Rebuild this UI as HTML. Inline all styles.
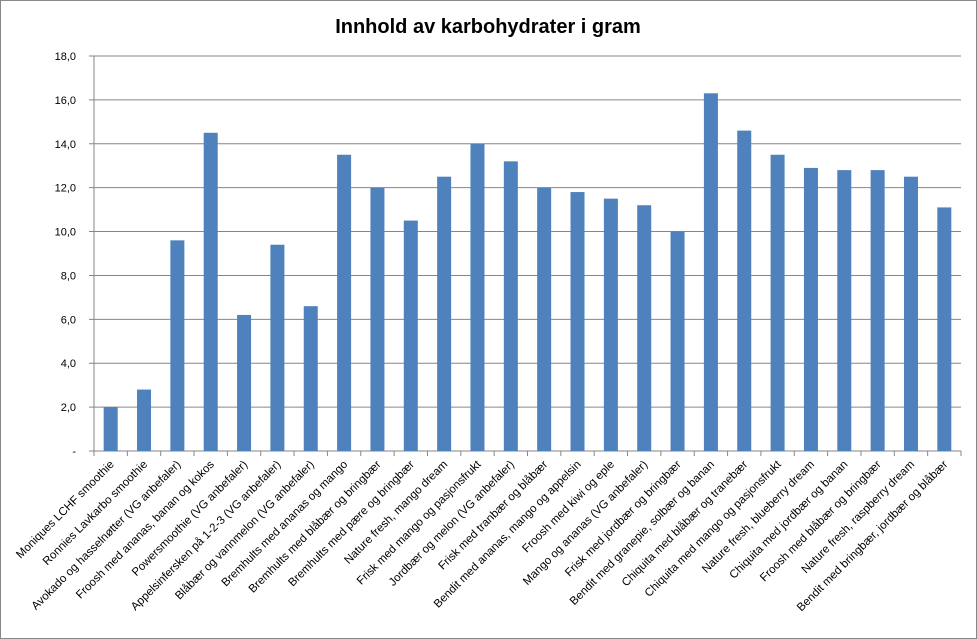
<!DOCTYPE html>
<html><head><meta charset="utf-8"><style>
body{margin:0;background:#fff;}
svg{display:block;font-family:"Liberation Sans","DejaVu Sans",sans-serif;}
</style></head><body>
<svg id="chart" width="977" height="639">
<rect x="0.5" y="0.5" width="976" height="638" fill="#fff" stroke="#888"/>
<text x="488" y="33" text-anchor="middle" font-size="20" font-weight="bold" fill="#000">Innhold av karbohydrater i gram</text>
<g id="grid"></g><g id="bars"></g><g id="axes"></g>
</svg>
<script>
const categories=["Moniques LCHF smoothie","Ronnies Lavkarbo smoothie","Avokado og hasselnøtter (VG anbefaler)","Froosh med ananas, banan og kokos","Powersmoothie (VG anbefaler)","Appelsinfersken på 1-2-3 (VG anbefaler)","Blåbær og vannmelon (VG anbefaler)","Bremhults med ananas og mango","Bremhults med blåbær og bringbær","Bremhults med pære og bringbær","Nature fresh, mango dream","Frisk med mango og pasjonsfrukt","Jordbær og melon (VG anbefaler)","Frisk med tranbær og blåbær","Bendit med ananas, mango og appelsin","Froosh med kiwi og eple","Mango og ananas (VG anbefaler)","Frisk med jordbær og bringbær","Bendit med granepie, solbær og banan","Chiquita med blåbær og tranebær","Chiquita med mango og pasjonsfrukt","Nature fresh, blueberry dream","Chiquita med jordbær og banan","Froosh med blåbær og bringbær","Nature fresh, raspberry dream","Bendit med bringbær, jordbær og blåbær"];
const values=[2.0,2.8,9.6,14.5,6.2,9.4,6.6,13.5,12.0,10.5,12.5,14.0,13.2,12.0,11.8,11.5,11.2,10.0,16.3,14.6,13.5,12.9,12.8,12.8,12.5,11.1];
const ticks=[0,2,4,6,8,10,12,14,16,18];
const tickLabels=["-","2,0","4,0","6,0","8,0","10,0","12,0","14,0","16,0","18,0"];
const NS="http://www.w3.org/2000/svg";
const L=94,R=961,T=56,B=451,ymax=18;
const y=v=>B-(v/ymax)*(B-T);
const bw=(R-L)/categories.length;
const x=i=>L+bw*(i+0.5);
function mk(t,a,p){const e=document.createElementNS(NS,t);for(const k in a)e.setAttribute(k,a[k]);p.appendChild(e);return e;}
const grid=document.getElementById('grid'),bars=document.getElementById('bars'),axes=document.getElementById('axes');
ticks.forEach((t,i)=>{
  const g=mk('line',{x1:L-5,x2:R,y1:y(t),y2:y(t),stroke:'#868686','stroke-width':1},grid);
  
  
  const tx=mk('text',{x:L-18,y:y(t)+4,'text-anchor':'end','font-size':11,fill:'#000'},axes);
  tx.textContent=tickLabels[i];
  
  
});
const ya=mk('line',{x1:L,x2:L,y1:T,y2:B,stroke:'#868686'},axes);


values.forEach((v,i)=>{
  const r=mk('rect',{x:x(i)-7,y:y(v),width:14,height:B-y(v),fill:'#4f81bd'},bars);
  
  
});
for(let i=0;i<=categories.length;i++){
  const tk=mk('line',{x1:L+bw*i,x2:L+bw*i,y1:B,y2:B+5,stroke:'#868686'},axes);
  
  
}
categories.forEach((c,i)=>{
  const px=x(i)+4,py=B+14;
  const t=mk('text',{x:px,y:py,'text-anchor':'end','font-size':11.5,fill:'#000',transform:`rotate(-45 ${px} ${py})`},axes);
  t.textContent=c;
  
  
});
</script>
</body></html>
